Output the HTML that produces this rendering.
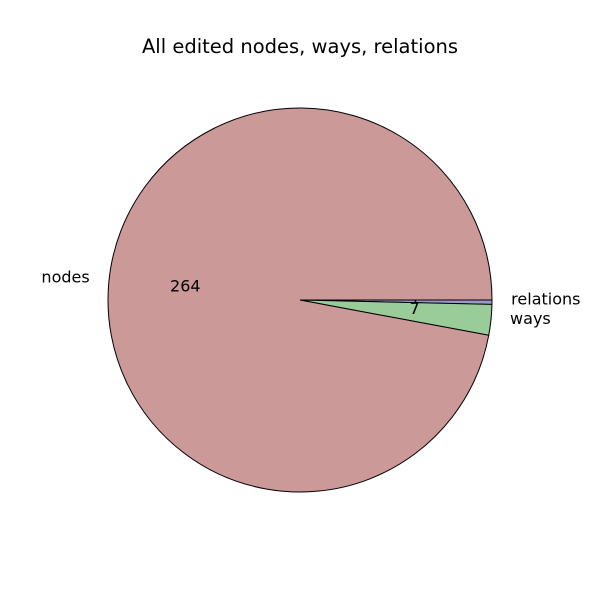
<!DOCTYPE html>
<html><head><meta charset="utf-8"><style>
body{margin:0;background:#fff}
svg text{font-family:"DejaVu Sans","Liberation Sans",sans-serif;fill:#000}
</style></head><body>
<svg id="chart" width="600" height="600">
<text x="300" y="53" font-size="19.5" text-anchor="middle">All edited nodes, ways, relations</text>
<g id="slices"></g>
</svg>
<script>
const categories = ["relations", "ways", "nodes"];
const values = [1, 7, 264];
const colors = ["#9999cc", "#99cc99", "#cc9999"];
const cx = 300, cy = 300, r = 192;
const total = values.reduce((a, b) => a + b, 0);
const g = document.getElementById('slices');
const NS = 'http://www.w3.org/2000/svg';
let a0 = 0;
function pt(a, rr) { return [cx + rr * Math.cos(a), cy + rr * Math.sin(a)]; }
values.forEach((v, i) => {
  const a1 = a0 + v / total * 2 * Math.PI;
  const p0 = pt(a0, r), p1 = pt(a1, r);
  const large = (a1 - a0) > Math.PI ? 1 : 0;
  const path = document.createElementNS(NS, 'path');
  path.setAttribute('d', `M${cx},${cy} L${p0[0]},${p0[1]} A${r},${r} 0 ${large} 1 ${p1[0]},${p1[1]} Z`);
  path.setAttribute('fill', colors[i]);
  path.setAttribute('stroke', '#000');
  path.setAttribute('stroke-width', '1');
  
  
  g.appendChild(path);
  const mid = (a0 + a1) / 2;
  const lp = pt(mid, r * 1.1);
  const lab = document.createElementNS(NS, 'text');
  lab.setAttribute('x', lp[0]);
  lab.setAttribute('y', lp[1] + 2);
  lab.setAttribute('font-size', '16');
  lab.setAttribute('text-anchor', Math.cos(mid) < 0 ? 'end' : 'start');
  lab.textContent = categories[i];
  
  
  g.appendChild(lab);
  const vp = pt(mid, r * 0.6);
  const vt = document.createElementNS(NS, 'text');
  vt.setAttribute('x', vp[0]);
  vt.setAttribute('y', vp[1] + 2);
  vt.setAttribute('font-size', '16');
  vt.setAttribute('text-anchor', 'middle');
  vt.textContent = v;
  
  
  g.appendChild(vt);
  a0 = a1;
});
</script>
</body></html>
